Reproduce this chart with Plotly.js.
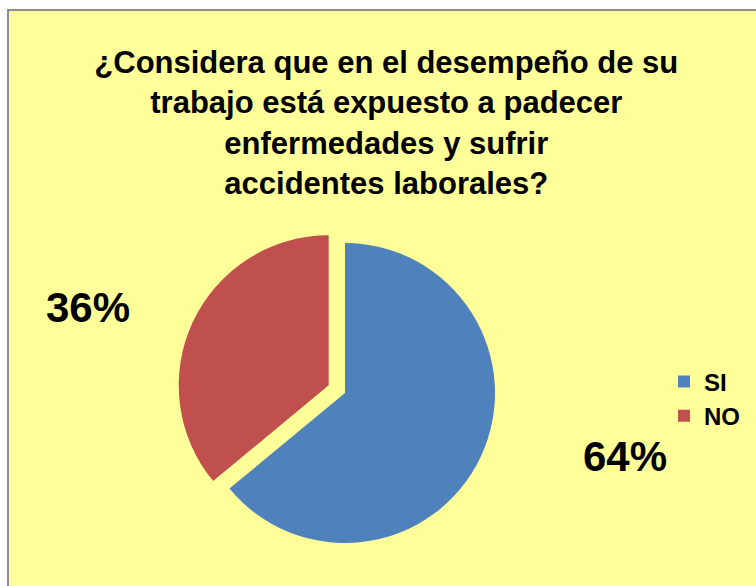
<!DOCTYPE html>
<html>
<head>
<meta charset="utf-8">
<script src="https://cdn.plot.ly/plotly-3.0.1.min.js"></script>
<style>html,body{margin:0;padding:0;background:#fff;}</style>
</head>
<body>
<div id="chart" style="width:756px;height:586px;"></div>
<script>
const labels = ["SI", "NO"];
const values = [64, 36];
const colors = ["#4F81BD", "#C0504D"];
const pulls = [0, 0.12];
const titleText = "¿Considera que en el desempeño de su<br>trabajo está expuesto a padecer<br>enfermedades y sufrir<br>accidentes laborales?";

const W = 756, H = 586;
const cx = 345, cy = 393, r = 168;
// label anchor positions (pixels) for each slice's percentage text
const labelPos = [[625, 456], [88, 307]];

const total = values.reduce((a, b) => a + b, 0);

const data = [{
  type: "pie",
  labels: labels,
  values: values,
  marker: {colors: colors, line: {width: 0}},
  pull: pulls,
  sort: false,
  direction: "clockwise",
  rotation: 0,
  textinfo: "none",
  hoverinfo: "label+percent",
  domain: {x: [(cx - r) / W, (cx + r) / W], y: [1 - (cy + r) / H, 1 - (cy - r) / H]},
  automargin: false
}];

const annotations = values.map((v, i) => ({
  xref: "paper", yref: "paper",
  x: labelPos[i][0] / W, y: 1 - labelPos[i][1] / H,
  xanchor: "center", yanchor: "middle",
  text: Math.round(v / total * 100) + "%",
  showarrow: false,
  font: {family: "Liberation Sans, Arial, sans-serif", size: 42, color: "#000", weight: "bold"}
}));

const layout = {
  width: W, height: H,
  margin: {l: 0, r: 0, t: 0, b: 0},
  paper_bgcolor: "#FFFFFF",
  title: {
    text: titleText,
    font: {family: "Liberation Sans Narrow, Arial Narrow, Liberation Sans, sans-serif", size: 31, color: "#000", weight: "bold"},
    x: 0.511, xanchor: "center",
    y: 1 - 73 / H, yanchor: "top", yref: "container"
  },
  showlegend: true,
  legend: {
    x: 664 / W, xanchor: "left",
    y: 1 - 399 / H, yanchor: "middle",
    font: {family: "Liberation Sans, Arial, sans-serif", size: 24, color: "#000", weight: "bold"},
    bgcolor: "rgba(0,0,0,0)",
    itemwidth: 30
  },
  annotations: annotations,
  shapes: [{
    type: "rect", xref: "paper", yref: "paper", layer: "below",
    x0: 8 / W, x1: 1.01, y0: -0.01, y1: 1 - 10 / H,
    fillcolor: "#FFFF99", line: {color: "#8C8C8C", width: 2}
  }]
};

Plotly.newPlot("chart", data, layout, {displayModeBar: false, staticPlot: true});
</script>
</body>
</html>
